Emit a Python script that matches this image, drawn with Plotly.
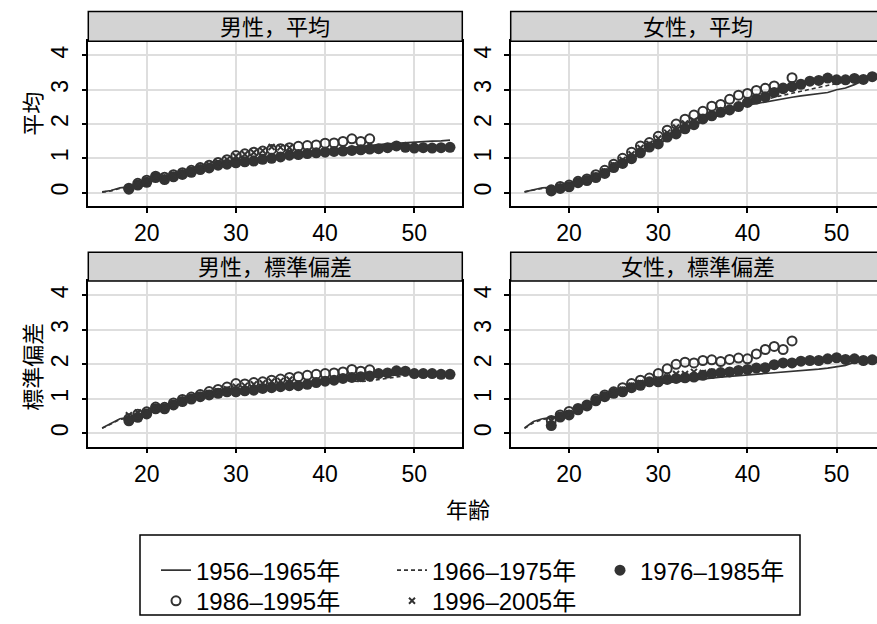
import plotly.graph_objects as go

W, H = 877, 624

# ---- ages covered by each birth cohort ----
AGES_1956 = list(range(15, 55))
AGES_1966 = list(range(15, 55))
AGES_1976 = list(range(18, 55))
AGES_1986 = list(range(18, 46))
AGES_1996 = list(range(18, 37))

COHORTS = ["1956–1965年", "1966–1975年", "1976–1985年", "1986–1995年", "1996–2005年"]
PANEL_TITLES = ["男性，平均", "女性，平均", "男性，標準偏差", "女性，標準偏差"]
ROW_TITLES = ["平均", "標準偏差"]
X_TITLE = "年齢"
X_TICKS = [20, 30, 40, 50]
Y_TICKS = [0, 1, 2, 3, 4]

# ---- 男性，平均 ----
M_MEAN_1956 = [0.02, 0.06, 0.14, 0.17, 0.24, 0.31, 0.38, 0.42, 0.48, 0.55,
               0.61, 0.68, 0.74, 0.80, 0.86, 0.91, 0.95, 0.99, 1.03, 1.06,
               1.09, 1.12, 1.15, 1.18, 1.21, 1.24, 1.27, 1.30, 1.33, 1.36,
               1.38, 1.40, 1.42, 1.44, 1.45, 1.46, 1.48, 1.50, 1.51, 1.53]
M_MEAN_1966 = [0.01, 0.05, 0.12, 0.16, 0.23, 0.30, 0.37, 0.41, 0.47, 0.53,
               0.60, 0.66, 0.72, 0.78, 0.83, 0.88, 0.92, 0.95, 0.99, 1.02,
               1.05, 1.08, 1.10, 1.12, 1.14, 1.16, 1.17, 1.17, 1.17, 1.18,
               1.19, 1.21, 1.25, 1.30, 1.32, 1.32, 1.32, 1.32, 1.32, 1.32]
M_MEAN_1976 = [0.10, 0.22, 0.30, 0.44, 0.38, 0.46, 0.53, 0.59, 0.67, 0.72,
               0.80, 0.83, 0.87, 0.90, 0.92, 0.97, 1.00, 1.04, 1.09, 1.11,
               1.14, 1.16, 1.18, 1.20, 1.21, 1.23, 1.25, 1.27, 1.28, 1.31,
               1.36, 1.32, 1.30, 1.31, 1.30, 1.31, 1.32]
M_MEAN_1986 = [0.13, 0.27, 0.36, 0.48, 0.45, 0.52, 0.58, 0.65, 0.73, 0.80,
               0.88, 0.96, 1.08, 1.13, 1.18, 1.21, 1.26, 1.28, 1.31, 1.35,
               1.37, 1.39, 1.44, 1.45, 1.49, 1.57, 1.49, 1.57]
M_MEAN_1996 = [0.14, 0.26, 0.35, 0.47, 0.44, 0.52, 0.58, 0.66, 0.74, 0.81,
               0.89, 0.97, 1.06, 1.12, 1.17, 1.22, 1.33, 1.32, 1.31]

# ---- 女性，平均 ----
F_MEAN_1956 = [0.02, 0.08, 0.14, 0.15, 0.16, 0.19, 0.26, 0.33, 0.42, 0.53,
               0.68, 0.81, 0.96, 1.12, 1.28, 1.40, 1.56, 1.68, 1.82, 1.94,
               2.08, 2.18, 2.28, 2.36, 2.46, 2.55, 2.60, 2.65, 2.70, 2.73,
               2.78, 2.82, 2.85, 2.88, 2.92, 3.00, 3.05, 3.15, 3.27, 3.35]
F_MEAN_1966 = [0.02, 0.07, 0.12, 0.14, 0.16, 0.20, 0.27, 0.34, 0.43, 0.55,
               0.70, 0.83, 0.98, 1.14, 1.30, 1.42, 1.58, 1.70, 1.84, 1.96,
               2.10, 2.20, 2.30, 2.39, 2.49, 2.58, 2.64, 2.72, 2.78, 2.84,
               2.90, 2.96, 3.02, 3.08, 3.14, 3.20, 3.24, 3.28, 3.32, 3.36]
F_MEAN_1976 = [0.05, 0.12, 0.17, 0.29, 0.35, 0.44, 0.56, 0.73, 0.85, 0.99,
               1.16, 1.33, 1.42, 1.62, 1.71, 1.86, 1.98, 2.15, 2.24, 2.34,
               2.41, 2.51, 2.63, 2.73, 2.79, 2.92, 3.03, 3.09, 3.16, 3.25,
               3.27, 3.34, 3.29, 3.29, 3.33, 3.30, 3.38]
F_MEAN_1986 = [0.08, 0.18, 0.22, 0.33, 0.40, 0.52, 0.65, 0.83, 1.00, 1.18,
               1.36, 1.46, 1.64, 1.82, 2.00, 2.14, 2.26, 2.37, 2.52, 2.57,
               2.72, 2.84, 2.89, 2.98, 3.04, 3.11, 3.05, 3.35]
F_MEAN_1996 = [0.07, 0.16, 0.21, 0.31, 0.38, 0.49, 0.62, 0.80, 0.95, 1.12,
               1.30, 1.42, 1.58, 1.75, 1.90, 2.02, 2.10, 2.20, 2.28]

# ---- 男性，標準偏差 ----
M_SD_1956 = [0.15, 0.28, 0.42, 0.46, 0.52, 0.58, 0.68, 0.74, 0.82, 0.90,
             0.97, 1.03, 1.09, 1.14, 1.18, 1.22, 1.25, 1.28, 1.31, 1.34,
             1.37, 1.40, 1.42, 1.45, 1.48, 1.51, 1.54, 1.57, 1.60, 1.62,
             1.64, 1.66, 1.68, 1.70, 1.71, 1.72, 1.72, 1.72, 1.71, 1.71]
M_SD_1966 = [0.14, 0.26, 0.40, 0.44, 0.50, 0.57, 0.67, 0.73, 0.81, 0.89,
             0.96, 1.02, 1.08, 1.13, 1.17, 1.21, 1.24, 1.27, 1.30, 1.33,
             1.36, 1.38, 1.40, 1.43, 1.46, 1.49, 1.52, 1.53, 1.51, 1.50,
             1.52, 1.56, 1.60, 1.64, 1.67, 1.69, 1.70, 1.70, 1.70, 1.70]
M_SD_1976 = [0.36, 0.46, 0.56, 0.71, 0.71, 0.82, 0.92, 0.99, 1.06, 1.11,
             1.16, 1.20, 1.20, 1.23, 1.25, 1.30, 1.32, 1.35, 1.38, 1.38,
             1.42, 1.47, 1.51, 1.54, 1.59, 1.62, 1.64, 1.66, 1.73, 1.75,
             1.81, 1.80, 1.73, 1.73, 1.73, 1.71, 1.71]
M_SD_1986 = [0.42, 0.55, 0.62, 0.76, 0.75, 0.88, 0.98, 1.05, 1.12, 1.21,
             1.27, 1.34, 1.44, 1.43, 1.47, 1.49, 1.54, 1.57, 1.62, 1.64,
             1.68, 1.71, 1.73, 1.75, 1.78, 1.85, 1.80, 1.84]
M_SD_1996 = [0.52, 0.60, 0.64, 0.76, 0.74, 0.86, 0.96, 1.03, 1.10, 1.17,
             1.22, 1.28, 1.35, 1.38, 1.42, 1.45, 1.50, 1.52, 1.56]

# ---- 女性，標準偏差 ----
F_SD_1956 = [0.15, 0.34, 0.42, 0.45, 0.50, 0.56, 0.66, 0.77, 0.90, 1.02,
             1.12, 1.18, 1.28, 1.35, 1.42, 1.44, 1.47, 1.50, 1.53, 1.56,
             1.59, 1.61, 1.63, 1.65, 1.67, 1.68, 1.70, 1.72, 1.74, 1.76,
             1.78, 1.80, 1.83, 1.86, 1.89, 1.92, 1.97, 2.06, 2.08, 2.10]
F_SD_1966 = [0.14, 0.30, 0.40, 0.43, 0.49, 0.55, 0.66, 0.77, 0.91, 1.03,
             1.13, 1.19, 1.30, 1.37, 1.45, 1.46, 1.50, 1.54, 1.57, 1.60,
             1.64, 1.68, 1.71, 1.73, 1.77, 1.80, 1.84, 1.86, 1.93, 1.98,
             2.00, 2.04, 2.06, 2.07, 2.11, 2.14, 2.12, 2.13, 2.10, 2.11]
F_SD_1976 = [0.22, 0.47, 0.53, 0.68, 0.79, 0.94, 1.06, 1.16, 1.20, 1.32,
             1.39, 1.49, 1.49, 1.56, 1.59, 1.61, 1.63, 1.68, 1.73, 1.76,
             1.78, 1.82, 1.85, 1.89, 1.90, 1.99, 2.04, 2.04, 2.09, 2.11,
             2.11, 2.16, 2.19, 2.14, 2.16, 2.11, 2.13]
F_SD_1986 = [0.37, 0.53, 0.63, 0.72, 0.82, 0.99, 1.11, 1.20, 1.32, 1.44,
             1.54, 1.60, 1.73, 1.87, 2.00, 2.06, 2.04, 2.11, 2.13, 2.08,
             2.14, 2.18, 2.16, 2.30, 2.43, 2.52, 2.43, 2.68]
F_SD_1996 = [0.36, 0.50, 0.58, 0.70, 0.80, 0.96, 1.08, 1.18, 1.26, 1.38,
             1.46, 1.52, 1.56, 1.62, 1.72, 1.72, 1.78, 1.75, 1.78]

PANEL_DATA = [
    [M_MEAN_1956, M_MEAN_1966, M_MEAN_1976, M_MEAN_1986, M_MEAN_1996],
    [F_MEAN_1956, F_MEAN_1966, F_MEAN_1976, F_MEAN_1986, F_MEAN_1996],
    [M_SD_1956, M_SD_1966, M_SD_1976, M_SD_1986, M_SD_1996],
    [F_SD_1956, F_SD_1966, F_SD_1976, F_SD_1986, F_SD_1996],
]
COHORT_AGES = [AGES_1956, AGES_1966, AGES_1976, AGES_1986, AGES_1996]

INK = "#333333"
FONT = "Liberation Sans, Arial, Noto Sans CJK JP, sans-serif"
FS_TITLE = 22
FS_TICK = 23
FS_LEGEND = 24

# style of each cohort
STYLES = [
    dict(mode="lines", line=dict(color=INK, width=1.7)),
    dict(mode="lines", line=dict(color=INK, width=1.6, dash="4px,3px")),
    dict(mode="markers", marker=dict(symbol="circle", size=11, color=INK)),
    dict(mode="markers", marker=dict(symbol="circle-open", size=9, color=INK,
                                     line=dict(width=2, color=INK))),
    dict(mode="markers", marker=dict(symbol="x-thin-open", size=6, color=INK,
                                     line=dict(width=2, color=INK))),
]
# one legend box per key: (left px, centre-row px) in a 3 x 2 arrangement
LEGEND_IDS = ["legend", "legend2", "legend3", "legend4", "legend5"]
LEGEND_POS = [(156, 577), (392, 577), (600, 577), (156, 608), (392, 608)]


def px(x):
    return x / W


def py(y):
    return 1 - y / H


# panel geometry in pixels: (left, right) and (plot top, plot bottom, strip top)
LEFT_X = (88.3, 462.3)
RIGHT_X = (510.7, 877.0)
TOP_Y = (41.7, 208.3, 11.7)
BOT_Y = (284.3, 451.7, 255.0)
PANELS = [(LEFT_X, TOP_Y, [13.45, 55.38]),
          (RIGHT_X, TOP_Y, [13.45, 54.53]),
          (LEFT_X, BOT_Y, [13.45, 55.38]),
          (RIGHT_X, BOT_Y, [13.45, 54.53])]
Y_RANGE = [-0.39, 4.415]

fig = go.Figure()

for p, series in enumerate(PANEL_DATA):
    sfx = "" if p == 0 else str(p + 1)
    for c, vals in enumerate(series):
        fig.add_trace(go.Scatter(
            x=COHORT_AGES[c], y=vals, name=COHORTS[c],
            legend=LEGEND_IDS[c], legendgroup=COHORTS[c], showlegend=(p == 0),
            xaxis="x" + sfx, yaxis="y" + sfx, hoverinfo="skip",
            **STYLES[c]))

axis_common = dict(
    showgrid=True, gridcolor="#dedede", gridwidth=1.7, zeroline=False,
    showline=True, linecolor="black", linewidth=1.5,
    ticks="outside", ticklen=5, tickwidth=1.5, tickcolor="black",
    tickfont=dict(family=FONT, size=FS_TICK, color="black"),
)

layout = dict(
    width=W, height=H, margin=dict(l=0, r=0, t=0, b=0),
    paper_bgcolor="white", plot_bgcolor="white",
    font=dict(family=FONT, size=FS_TITLE, color="black"),
    showlegend=True,
)

shapes = []
annotations = []
for p, (xs, ys, xr) in enumerate(PANELS):
    sfx = "" if p == 0 else str(p + 1)
    right_col = p in (1, 3)
    layout["xaxis" + sfx] = dict(
        axis_common, domain=[px(xs[0]), px(xs[1])], range=xr,
        anchor="y" + sfx, tickvals=X_TICKS, mirror=True, ticklabelstandoff=1)
    layout["yaxis" + sfx] = dict(
        axis_common, domain=[py(ys[1]), py(ys[0])], range=Y_RANGE,
        anchor="x" + sfx, tickvals=Y_TICKS, tickangle=-90,
        mirror=not right_col, ticklabelstandoff=4)
    # title strip above each panel
    shapes.append(dict(
        type="rect", xref="paper", yref="paper",
        x0=px(xs[0]), x1=px(xs[1] + (12 if right_col else 0)),
        y0=py(ys[0]), y1=py(ys[2]),
        fillcolor="#d3d3d3", line=dict(color="black", width=1.5), layer="above"))
    strip_w = LEFT_X[1] - LEFT_X[0]
    annotations.append(dict(
        text=PANEL_TITLES[p], xref="paper", yref="paper",
        x=px(xs[0] + strip_w / 2), y=py((ys[0] + ys[2]) / 2 + 1),
        showarrow=False, xanchor="center", yanchor="middle",
        font=dict(family=FONT, size=FS_TITLE, color="black")))

# row titles and the shared x title
annotations.append(dict(text=ROW_TITLES[0], xref="paper", yref="paper",
                        x=px(34), y=py(115), textangle=-90, showarrow=False,
                        xanchor="center", yanchor="middle"))
annotations.append(dict(text=ROW_TITLES[1], xref="paper", yref="paper",
                        x=px(34), y=py(371), textangle=-90, showarrow=False,
                        xanchor="center", yanchor="middle"))
annotations.append(dict(text=X_TITLE, xref="paper", yref="paper",
                        x=px(468), y=py(516), showarrow=False,
                        xanchor="center", yanchor="middle"))

# legend frame
shapes.append(dict(type="rect", xref="paper", yref="paper",
                   x0=px(140), x1=px(800), y0=py(622), y1=py(541),
                   line=dict(color="black", width=1.5)))

layout["shapes"] = shapes
layout["annotations"] = annotations

legend_common = dict(
    orientation="v", yanchor="middle", xanchor="left",
    bgcolor="rgba(0,0,0,0)", borderwidth=0, tracegroupgap=0,
    font=dict(family=FONT, size=FS_LEGEND, color="black"),
)
for lid, (lx, ly) in zip(LEGEND_IDS, LEGEND_POS):
    layout[lid] = dict(legend_common, x=px(lx), y=py(ly))

fig.update_layout(**layout)
fig.write_html("out.html")
